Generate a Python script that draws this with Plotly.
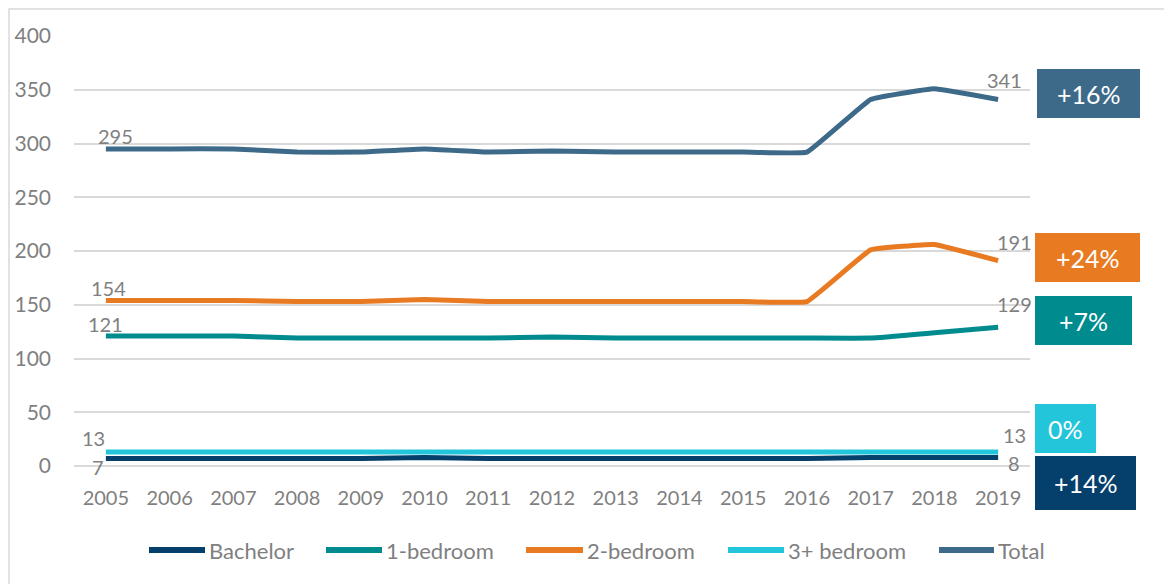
import plotly.graph_objects as go

years = list(range(2005, 2020))
bachelor = [7, 7, 7, 7, 7, 8, 7, 7, 7, 7, 7, 7, 8, 8, 8]
one_bed = [121, 121, 121, 119, 119, 119, 119, 120, 119, 119, 119, 119, 119, 124, 129]
two_bed = [154, 154, 154, 153, 153, 155, 153, 153, 153, 153, 153, 153, 201, 206, 191]
three_bed = [13] * 15
total = [295, 295, 295, 292, 292, 295, 292, 293, 292, 292, 292, 292, 341, 351, 341]

names = ["Bachelor", "1-bedroom", "2-bedroom", "3+ bedroom", "Total"]
series = [bachelor, one_bed, two_bed, three_bed, total]
colors = ["#053f6b", "#008b8f", "#e87b21", "#22c5da", "#3e6a8a"]

W, H = 1172, 584
OFF = 8  # page body margin
L = 74 - OFF
T = 36 - OFF
R = W - (1030 - OFF)
B = H - (466 - OFF)
pw = W - L - R
ph = H - T - B

def px_x(p):
    return (p - OFF - L) / pw

def px_y(p):
    return 1 - (p - OFF - T) / ph

FONT = "Lato"
GRAY = "#7f7f7f"

fig = go.Figure()
for n, s, c in zip(names, series, colors):
    fig.add_trace(go.Scatter(x=years, y=s, name=n, mode="lines", showlegend=False,
                             line=dict(color=c, width=5, shape="spline", smoothing=0.25)))

lab_font = dict(family=FONT, size=20, color=GRAY)
label_shifts = {
    "Total": ((10, 13), (6, 19)),
    "2-bedroom": ((3, 12), (16, 19)),
    "1-bedroom": ((0, 12), (16, 23)),
    "3+ bedroom": ((-12, 14), (16, 17)),
    "Bachelor": ((-8, -9), (16, -6)),
}
anns = []
for n, s in zip(names, series):
    (sx, sy), (ex, ey) = label_shifts[n]
    anns.append(dict(x=years[0], y=s[0], text=str(s[0]), showarrow=False, xref="x", yref="y",
                     xshift=sx, yshift=sy, font=lab_font))
    anns.append(dict(x=years[-1], y=s[-1], text=str(s[-1]), showarrow=False, xref="x", yref="y",
                     xshift=ex, yshift=ey, font=lab_font))

# change boxes (page pixel boxes: x0, x1, y0, y1)
boxes = {
    "Total": (1037, 1140, 69, 118),
    "2-bedroom": (1035, 1140, 233, 282),
    "1-bedroom": (1035, 1132, 296, 345),
    "3+ bedroom": (1035, 1096, 404, 453),
    "Bachelor": (1035, 1136, 456, 510),
}
shapes = []
for n, s, c in zip(names, series, colors):
    pct = round((s[-1] / s[0] - 1) * 100)
    txt = f"+{pct}%" if pct > 0 else f"{pct}%"
    x0, x1, y0, y1 = boxes[n]
    shapes.append(dict(type="rect", xref="paper", yref="paper", x0=px_x(x0), x1=px_x(x1),
                       y0=px_y(y1), y1=px_y(y0), fillcolor=c, line=dict(width=0), layer="above"))
    anns.append(dict(x=px_x((x0 + x1) / 2), y=px_y((y0 + y1) / 2), xref="paper", yref="paper",
                     text=txt, showarrow=False, xanchor="center", yanchor="middle",
                     font=dict(family=FONT, size=25, color="white")))

# custom legend (line sample + label), page pixel positions
legend_pos = [(149, 205), (326, 382), (526, 583), (728, 784), (939, 994)]
LY = 550
for n, c, (a, b) in zip(names, colors, legend_pos):
    shapes.append(dict(type="line", xref="paper", yref="paper", x0=px_x(a), x1=px_x(b),
                       y0=px_y(LY), y1=px_y(LY), line=dict(color=c, width=6)))
    anns.append(dict(x=px_x(b + 2), y=px_y(LY), xref="paper", yref="paper", text=n,
                     showarrow=False, xanchor="left", yanchor="middle",
                     font=dict(family=FONT, size=22, color=GRAY)))

# outer border
shapes.append(dict(type="rect", xref="paper", yref="paper", x0=px_x(9), x1=px_x(1200),
                   y0=px_y(620), y1=px_y(9), line=dict(color="#d9d9d9", width=1.5),
                   fillcolor="rgba(0,0,0,0)", layer="below"))

fig.update_layout(
    width=W, height=H,
    margin=dict(l=L, r=R, t=T, b=B, autoexpand=False),
    plot_bgcolor="white", paper_bgcolor="white",
    font=dict(family=FONT, size=20, color=GRAY),
    xaxis=dict(range=[2004.5, 2019.5], tickmode="array", tickvals=years,
               ticktext=[str(y) for y in years], showgrid=False, zeroline=False,
               showline=False, ticks="", ticklabelstandoff=18,
               tickfont=dict(family=FONT, size=20, color=GRAY)),
    yaxis=dict(range=[0, 400], tickvals=list(range(0, 401, 50)), showgrid=True,
               gridcolor="#d9d9d9", gridwidth=1.5, zeroline=True, zerolinecolor="#d9d9d9",
               zerolinewidth=1.5, ticks="", ticklabelstandoff=22,
               tickfont=dict(family=FONT, size=21, color=GRAY)),
    showlegend=False,
    annotations=anns, shapes=shapes,
)

fig.write_html("out.html")
